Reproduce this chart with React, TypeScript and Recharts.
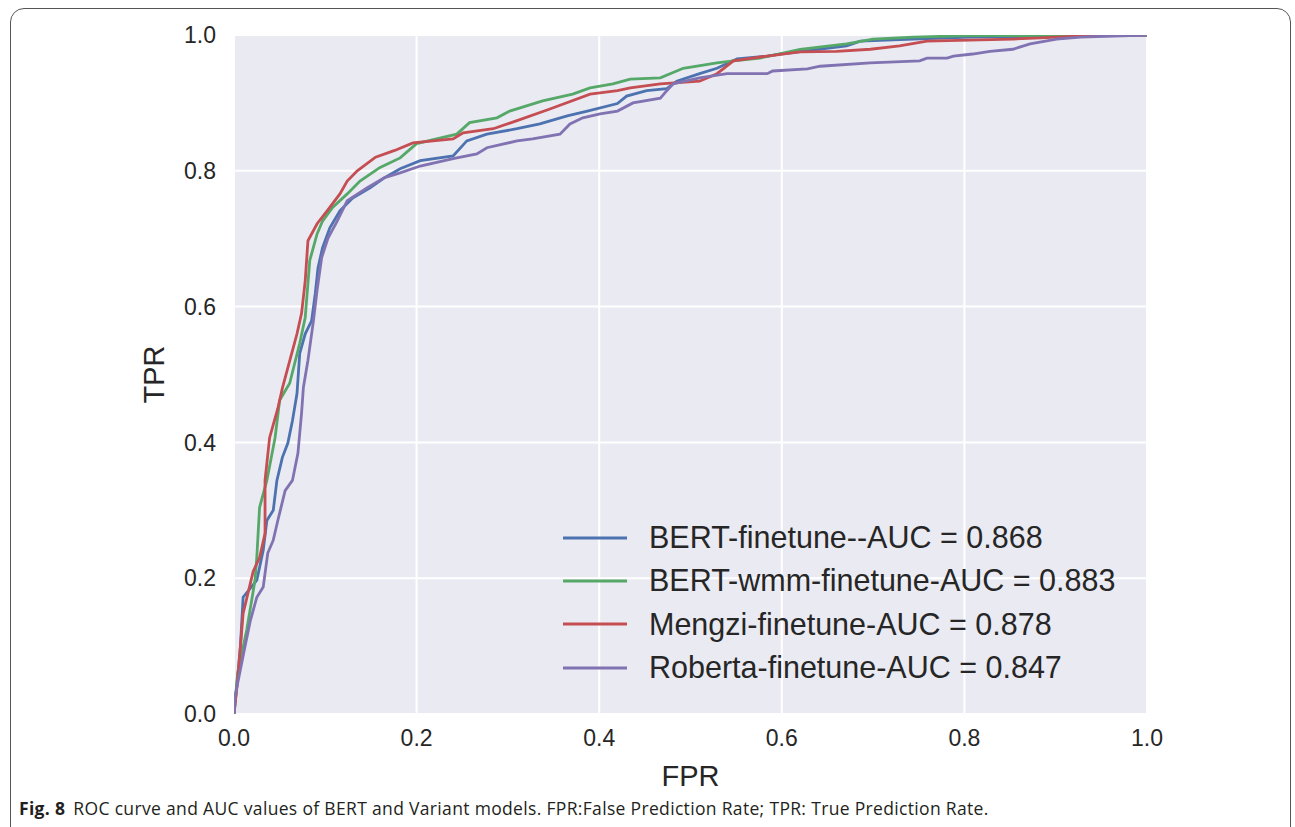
import React from "react";
import { LineChart, Line, XAxis, YAxis, CartesianGrid, Legend } from "recharts";

const bertFinetune: [number, number][] = [
  [0, 0], [0.003, 0.04], [0.007, 0.099], [0.01, 0.172], [0.025, 0.197], [0.032, 0.241], [0.036, 0.285],
  [0.043, 0.3], [0.047, 0.344], [0.053, 0.378], [0.059, 0.399], [0.064, 0.432], [0.069, 0.472], [0.072, 0.531],
  [0.078, 0.56], [0.085, 0.579], [0.089, 0.619], [0.092, 0.657], [0.097, 0.687], [0.105, 0.716], [0.116, 0.741],
  [0.13, 0.76], [0.149, 0.775], [0.165, 0.79], [0.182, 0.803], [0.204, 0.815], [0.24, 0.822], [0.255, 0.844],
  [0.277, 0.854], [0.31, 0.862], [0.335, 0.869], [0.365, 0.881], [0.387, 0.888], [0.42, 0.899], [0.43, 0.91],
  [0.452, 0.918], [0.474, 0.921], [0.485, 0.932], [0.51, 0.943], [0.529, 0.951], [0.551, 0.965], [0.584, 0.969],
  [0.598, 0.972], [0.671, 0.984], [0.686, 0.991], [0.744, 0.994], [0.806, 0.997], [0.963, 0.999], [1, 1],
];

const bertWmmFinetune: [number, number][] = [
  [0, 0], [0.004, 0.06], [0.014, 0.124], [0.023, 0.197], [0.025, 0.231], [0.028, 0.304], [0.036, 0.344],
  [0.045, 0.407], [0.05, 0.462], [0.061, 0.487], [0.072, 0.546], [0.078, 0.584], [0.083, 0.668], [0.091, 0.707],
  [0.097, 0.726], [0.108, 0.746], [0.124, 0.766], [0.138, 0.785], [0.16, 0.805], [0.182, 0.819], [0.2, 0.84],
  [0.244, 0.854], [0.258, 0.871], [0.288, 0.878], [0.302, 0.888], [0.338, 0.903], [0.371, 0.913], [0.39, 0.922],
  [0.415, 0.928], [0.434, 0.935], [0.467, 0.937], [0.492, 0.951], [0.529, 0.959], [0.547, 0.962], [0.576, 0.966],
  [0.62, 0.979], [0.671, 0.987], [0.7, 0.994], [0.744, 0.997], [0.806, 0.999], [1, 1],
];

const mengziFinetune: [number, number][] = [
  [0, 0], [0.004, 0.05], [0.01, 0.148], [0.021, 0.21], [0.028, 0.23], [0.034, 0.266], [0.034, 0.344],
  [0.039, 0.407], [0.048, 0.45], [0.053, 0.48], [0.061, 0.52], [0.069, 0.56], [0.074, 0.59], [0.078, 0.638],
  [0.081, 0.697], [0.091, 0.722], [0.102, 0.741], [0.116, 0.766], [0.124, 0.785], [0.135, 0.8], [0.155, 0.82],
  [0.176, 0.83], [0.196, 0.841], [0.24, 0.847], [0.251, 0.856], [0.284, 0.862], [0.31, 0.874], [0.346, 0.891],
  [0.39, 0.913], [0.42, 0.918], [0.434, 0.922], [0.467, 0.928], [0.51, 0.932], [0.529, 0.943], [0.547, 0.962],
  [0.584, 0.969], [0.62, 0.975], [0.66, 0.976], [0.697, 0.979], [0.729, 0.984], [0.759, 0.991], [0.853, 0.994],
  [0.89, 0.996], [0.934, 0.999], [1, 1],
];

const robertaFinetune: [number, number][] = [
  [0, 0], [0.001, 0.025], [0.012, 0.099], [0.018, 0.138], [0.025, 0.172], [0.032, 0.187], [0.037, 0.237],
  [0.043, 0.256], [0.048, 0.285], [0.056, 0.329], [0.064, 0.344], [0.07, 0.384], [0.074, 0.443], [0.076, 0.481],
  [0.081, 0.521], [0.087, 0.579], [0.091, 0.624], [0.096, 0.672], [0.103, 0.701], [0.113, 0.726], [0.124, 0.756],
  [0.146, 0.775], [0.165, 0.79], [0.182, 0.797], [0.204, 0.807], [0.24, 0.818], [0.266, 0.825], [0.277, 0.834],
  [0.31, 0.844], [0.327, 0.847], [0.357, 0.854], [0.368, 0.869], [0.382, 0.878], [0.401, 0.884], [0.42, 0.888],
  [0.437, 0.9], [0.467, 0.907], [0.474, 0.918], [0.481, 0.928], [0.51, 0.937], [0.54, 0.943], [0.584, 0.943],
  [0.59, 0.947], [0.628, 0.95], [0.642, 0.954], [0.697, 0.959], [0.751, 0.962], [0.759, 0.966], [0.781, 0.966],
  [0.788, 0.969], [0.809, 0.972], [0.828, 0.976], [0.853, 0.979], [0.872, 0.987], [0.901, 0.994], [0.927, 0.997],
  [1, 1],
];

const seriesNames = [
  "BERT-finetune--AUC = 0.868",
  "BERT-wmm-finetune-AUC = 0.883",
  "Mengzi-finetune-AUC = 0.878",
  "Roberta-finetune-AUC = 0.847",
];
const seriesColors = ["#4C72B0", "#55A868", "#C44E52", "#8172B2"];
const seriesData = [bertFinetune, bertWmmFinetune, mengziFinetune, robertaFinetune];
const axisTicks = [0, 0.2, 0.4, 0.6, 0.8, 1.0];

const toRows = (pts: [number, number][]) => pts.map(([fpr, tpr]) => ({ fpr, tpr }));

const FONT = "'Liberation Sans', Arial, sans-serif";

const LegendContent = () => (
  <div style={{ fontFamily: FONT, fontSize: 30.5, color: "#262626" }}>
    {seriesNames.map((n, i) => (
      <div key={n} style={{ display: "flex", alignItems: "center", height: 43.3 }}>
        <svg width={89} height={10} style={{ flex: "none" }}>
          <line x1={3} y1={5} x2={67} y2={5} stroke={seriesColors[i]} strokeWidth={2.8} />
        </svg>
        <span style={{ whiteSpace: "nowrap" }}>{n}</span>
      </div>
    ))}
  </div>
);

const YLabel = (props: any) => {
  const vb = props.viewBox || {};
  const cx = 154;
  const cy = vb.y + vb.height / 2;
  return (
    <text
      x={cx}
      y={cy}
      transform={`rotate(-90, ${cx}, ${cy})`}
      textAnchor="middle"
      dominantBaseline="central"
      fontFamily={FONT}
      fontSize={29}
      fill="#262626"
    >
      TPR
    </text>
  );
};

export default function App() {
  return (
    <div style={{ position: "absolute", left: 0, top: 0, width: 1295, height: 827, overflow: "hidden", background: "#fff" }}>
      <div
        style={{
          position: "absolute",
          left: 10,
          top: 8,
          width: 1281,
          height: 860,
          border: "1.3px solid #555",
          borderRadius: 14,
          boxSizing: "border-box",
        }}
      />
      <div style={{ position: "absolute", left: 0, top: 0 }}>
        <LineChart
          width={1295}
          height={827}
          margin={{ top: 35, right: 148, bottom: 43, left: 134 }}
        >
          <CartesianGrid fill="#EAEAF2" stroke="#FFFFFF" strokeWidth={2} horizontalValues={axisTicks} verticalValues={axisTicks} />
          <XAxis
            type="number"
            dataKey="fpr"
            domain={[0, 1]}
            ticks={axisTicks}
            tickFormatter={(v: number) => v.toFixed(1)}
            axisLine={false}
            tickLine={false}
            tickSize={0}
            tickMargin={16}
            height={70}
            tick={{ fontFamily: FONT, fontSize: 23, fill: "#262626" }}
            label={{ value: "FPR", position: "insideBottom", offset: -2, fontFamily: FONT, fontSize: 29, fill: "#262626" }}
            allowDataOverflow
          />
          <YAxis
            type="number"
            dataKey="tpr"
            domain={[0, 1]}
            ticks={axisTicks}
            tickFormatter={(v: number) => v.toFixed(1)}
            axisLine={false}
            tickLine={false}
            tickSize={0}
            tickMargin={18}
            width={100}
            tick={{ fontFamily: FONT, fontSize: 23, fill: "#262626" }}
            label={<YLabel />}
            allowDataOverflow
          />
          <Legend
            layout="vertical"
            verticalAlign="middle"
            align="center"
            content={<LegendContent />}
            wrapperStyle={{ position: "absolute", left: 560, top: 516, width: 640 }}
          />
          {seriesData.map((d, i) => (
            <Line
              key={seriesNames[i]}
              data={toRows(d)}
              dataKey="tpr"
              name={seriesNames[i]}
              type="linear"
              stroke={seriesColors[i]}
              strokeWidth={2.8}
              dot={false}
              activeDot={false}
              isAnimationActive={false}
            />
          ))}
        </LineChart>
      </div>
      <div
        style={{
          position: "absolute",
          left: 19,
          top: 796,
          fontFamily: "'Open Sans', sans-serif",
          fontSize: 17.5,
          color: "#231F20",
          whiteSpace: "nowrap",
          letterSpacing: 0.33,
        }}
      >
        <b style={{ marginRight: 8 }}>Fig. 8</b>
        ROC curve and AUC values of BERT and Variant models. FPR:False Prediction Rate; TPR: True Prediction Rate.
      </div>
    </div>
  );
}
